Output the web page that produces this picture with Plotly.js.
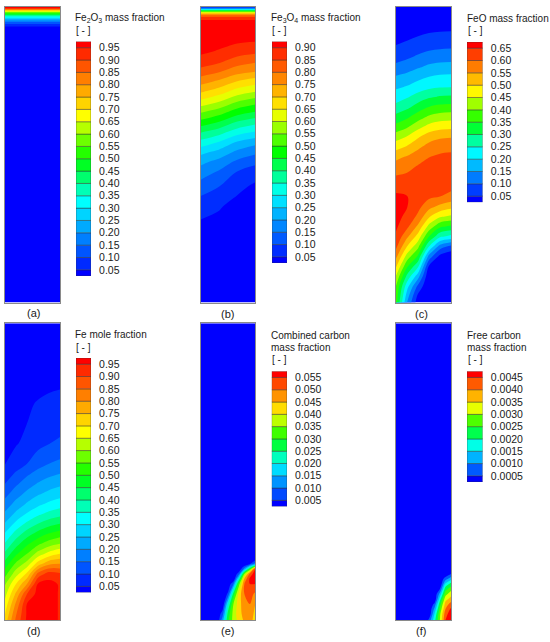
<!DOCTYPE html>
<html><head><meta charset="utf-8">
<script src="https://cdn.plot.ly/plotly-3.0.1.min.js"></script>
<style>html,body{margin:0;padding:0;background:#fff;}#chart{width:550px;height:642px;}</style>
</head><body><div id="chart"></div>
<script>
// ---------------- data ----------------
// radial position (0 = left wall, 1 = right wall) and depth from top (0..296, arbitrary units)
const radA = [0, 1];
const depthA = [0, 1.5, 3, 4.5, 6, 8, 10, 12, 15, 18, 21, 30, 296];
const fe2o3 = [
 [1.00,1.00],[0.94,0.94],[0.80,0.80],[0.67,0.67],[0.55,0.55],[0.45,0.45],
 [0.34,0.34],[0.26,0.26],[0.16,0.16],[0.08,0.08],[0.03,0.03],[0,0],[0,0]];
const levelsA = [0.05,0.10,0.15,0.20,0.25,0.30,0.35,0.40,0.45,0.50,0.55,0.60,0.65,0.70,0.75,0.80,0.85,0.90,0.95];

const radB = [0, 0.33, 0.67, 1];
const depthB = [0,2,4,6,8,11,15,25,35,45,55,65,75,85,95,105,115,125,135,145,155,165,180,200,220,250,296];
const fe3o4 = [
 [0.02,0.02,0.02,0.02],[0.20,0.20,0.20,0.20],[0.45,0.45,0.45,0.45],[0.65,0.65,0.65,0.65],
 [0.78,0.78,0.78,0.78],[0.87,0.87,0.87,0.87],[0.92,0.92,0.92,0.92],
 [0.940,0.936,0.930,0.927],[0.925,0.918,0.906,0.900],[0.909,0.895,0.874,0.862],
 [0.880,0.858,0.824,0.806],[0.828,0.805,0.770,0.750],[0.769,0.740,0.696,0.672],
 [0.706,0.674,0.627,0.600],[0.636,0.602,0.550,0.521],[0.558,0.526,0.477,0.450],
 [0.486,0.452,0.400,0.371],[0.408,0.376,0.327,0.300],[0.336,0.302,0.250,0.221],
 [0.269,0.238,0.191,0.165],[0.215,0.185,0.140,0.115],[0.177,0.146,0.099,0.073],
 [0.127,0.101,0.063,0.041],[0.070,0.055,0.033,0.020],[0.039,0.033,0.023,0.018],
 [0.018,0.017,0.016,0.015],[0.010,0.010,0.010,0.010]];
const levelsB = [0.05,0.10,0.15,0.20,0.25,0.30,0.35,0.40,0.45,0.50,0.55,0.60,0.65,0.70,0.75,0.80,0.85,0.90];

const radC = [0, 0.2, 0.4, 0.6, 0.8, 1];
const depthC = [0,10,20,30,40,50,60,70,80,90,100,110,120,130,140,150,160,170,180,190,200,210,220,230,240,250,260,270,280,290,296];
const feo = [
 [0,0,0,0,0,0],
 [0.010,0.012,0.016,0.018,0.020,0.020],
 [0.020,0.024,0.030,0.036,0.038,0.039],
 [0.036,0.042,0.051,0.058,0.062,0.063],
 [0.053,0.062,0.075,0.086,0.091,0.093],
 [0.080,0.091,0.107,0.121,0.127,0.129],
 [0.112,0.125,0.143,0.159,0.167,0.169],
 [0.154,0.166,0.185,0.200,0.208,0.210],
 [0.191,0.203,0.222,0.237,0.245,0.247],
 [0.226,0.244,0.270,0.292,0.303,0.306],
 [0.264,0.286,0.320,0.349,0.362,0.366],
 [0.314,0.339,0.376,0.407,0.422,0.426],
 [0.366,0.392,0.432,0.466,0.481,0.486],
 [0.426,0.452,0.492,0.526,0.541,0.546],
 [0.480,0.503,0.538,0.567,0.581,0.585],
 [0.536,0.553,0.577,0.598,0.608,0.611],
 [0.573,0.585,0.604,0.619,0.627,0.629],
 [0.603,0.609,0.619,0.627,0.631,0.632],
 [0.633,0.629,0.623,0.617,0.620,0.614],
 [0.659,0.652,0.625,0.610,0.600,0.584],
 [0.679,0.652,0.615,0.569,0.536,0.517],
 [0.670,0.635,0.590,0.506,0.458,0.440],
 [0.658,0.612,0.539,0.433,0.360,0.340],
 [0.642,0.561,0.481,0.350,0.260,0.235],
 [0.612,0.500,0.414,0.250,0.125,0.085],
 [0.563,0.429,0.342,0.130,0.033,0.010],
 [0.506,0.357,0.258,0.042,0,0],
 [0.445,0.286,0.170,0.005,0,0],
 [0.398,0.219,0.086,0,0,0],
 [0.381,0.173,0.036,0,0,0],
 [0.370,0.150,0.020,0,0,0]];
const levelsC = [0.05,0.10,0.15,0.20,0.25,0.30,0.35,0.40,0.45,0.50,0.55,0.60,0.65];

const radD = [0, 0.2, 0.4, 0.6, 0.8, 1];
const depthD = [0,20,40,60,80,100,120,140,150,160,170,180,190,200,210,220,230,240,250,260,270,280,290,296];
const fe = [
 [0,0,0,0,0,0],
 [0.005,0.0065,0.008,0.009,0.0095,0.010],
 [0.010,0.013,0.016,0.018,0.019,0.020],
 [0.015,0.024,0.031,0.037,0.041,0.044],
 [0.020,0.033,0.044,0.053,0.060,0.064],
 [0.029,0.040,0.050,0.065,0.077,0.084],
 [0.039,0.047,0.060,0.085,0.099,0.108],
 [0.048,0.070,0.100,0.130,0.150,0.162],
 [0.069,0.108,0.141,0.167,0.187,0.200],
 [0.100,0.141,0.176,0.204,0.224,0.238],
 [0.133,0.177,0.213,0.243,0.264,0.279],
 [0.169,0.216,0.255,0.286,0.309,0.325],
 [0.209,0.261,0.304,0.338,0.364,0.381],
 [0.255,0.314,0.362,0.401,0.431,0.450],
 [0.305,0.371,0.426,0.470,0.503,0.525],
 [0.356,0.429,0.490,0.539,0.576,0.600],
 [0.411,0.490,0.550,0.620,0.670,0.700],
 [0.469,0.560,0.620,0.725,0.787,0.800],
 [0.531,0.630,0.710,0.867,0.925,0.911],
 [0.594,0.700,0.800,0.955,0.966,0.945],
 [0.632,0.760,0.900,0.970,0.970,0.945],
 [0.667,0.810,0.952,0.970,0.970,0.945],
 [0.700,0.845,0.957,0.970,0.970,0.945],
 [0.720,0.860,0.960,0.970,0.970,0.945]];
const levelsD = levelsA.slice();

const radE = [0, 0.3, 0.4, 0.5, 0.6, 0.7, 0.8, 0.9, 1];
const depthE = [0,225,235,240,245,250,255,260,270,280,290,296];
const combinedC = [
 [0,0,0,0,0,0,0,0,0],
 [0,0,0,0,0,0,0,0,0],
 [0,0,0,0,0,0,0,0,0.002],
 [0,0,0,0,0,0,0,0.004,0.012],
 [0,0,0,0,0,0,0.012,0.030,0.055],
 [0,0,0,0,0,0.008,0.035,0.052,0.058],
 [0,0,0,0,0,0.022,0.046,0.056,0.058],
 [0,0,0,0,0.010,0.033,0.050,0.055,0.055],
 [0,0,0,0.006,0.027,0.042,0.050,0.052,0.049],
 [0,0,0,0.020,0.035,0.043,0.048,0.050,0.045],
 [0,0,0.008,0.027,0.037,0.043,0.047,0.049,0.043],
 [0,0,0.013,0.029,0.037,0.042,0.046,0.048,0.042]];
const levelsE = [0.005,0.010,0.015,0.020,0.025,0.030,0.035,0.040,0.045,0.050,0.055];

const radF = [0, 0.5, 0.6, 0.7, 0.8, 0.9, 1];
const depthF = [0,240,250,255,260,265,270,275,280,285,290,296];
const freeC = [
 [0,0,0,0,0,0,0],
 [0,0,0,0,0,0,0],
 [0,0,0,0,0,0,0.0005],
 [0,0,0,0,0,0.0008,0.0013],
 [0,0,0,0,0,0.0016,0.0022],
 [0,0,0,0,0.0005,0.0023,0.0028],
 [0,0,0,0,0.0012,0.0028,0.0033],
 [0,0,0,0,0.0018,0.0033,0.0037],
 [0,0,0,0.0006,0.0023,0.0037,0.0042],
 [0,0,0,0.0011,0.0026,0.0040,0.0046],
 [0,0,0,0.0015,0.0029,0.0043,0.0048],
 [0,0,0.0006,0.0018,0.0030,0.0045,0.0050]];
const levelsF = [0.0005,0.0010,0.0015,0.0020,0.0025,0.0030,0.0035,0.0040,0.0045];

const titles = [
 ['Fe<sub>2</sub>O<sub>3</sub> mass fraction'],
 ['Fe<sub>3</sub>O<sub>4</sub> mass fraction'],
 ['FeO mass fraction'],
 ['Fe mole fraction'],
 ['Combined carbon','mass fraction'],
 ['Free carbon','mass fraction']];
const unitText = '[ - ]';
const panelLabels = ['(a)','(b)','(c)','(d)','(e)','(f)'];

// ---------------- styling / layout ----------------
const W = 550, H = 642;
const FONT = 'Liberation Sans, Arial, Helvetica, sans-serif';
function rainbow(t){
  const a = [[0,[0,0,255]],[0.316,[0,255,255]],[0.5,[0,255,0]],[0.684,[255,255,0]],[1,[255,0,0]]];
  for (let i=0;i<a.length-1;i++){
    if (t<=a[i+1][0]+1e-9){
      const f=(t-a[i][0])/(a[i+1][0]-a[i][0]);
      const c=a[i][1].map((v,k)=>Math.round(v+(a[i+1][1][k]-v)*f));
      return 'rgb('+c.join(',')+')';
    }
  }
  return 'rgb(255,0,0)';
}
const cfg = [
 {x:radA,y:depthA,z:fe2o3,lv:levelsA,dec:2,box:[5,6.7,60,302.5],bar:[76,41.5,91,276],tx:73,ty:[18],uy:31,lx:33,ly:313},
 {x:radB,y:depthB,z:fe3o4,lv:levelsB,dec:2,box:[200.7,6.7,255.3,302.5],bar:[272,41.5,287,263],tx:269,ty:[18],uy:31,lx:227,ly:314},
 {x:radC,y:depthC,z:feo,lv:levelsC,dec:2,box:[396,6.7,451,302.5],bar:[467,42,482.7,202.3],tx:465,ty:[18],uy:31,lx:422,ly:314},
 {x:radD,y:depthD,z:fe,lv:levelsD,dec:2,box:[5,323.3,60,620],bar:[76,358,91,592.5],tx:73,ty:[334.3],uy:348,lx:33,ly:631},
 {x:radE,y:depthE,z:combinedC,lv:levelsE,dec:3,box:[200.7,323.3,255.3,620],bar:[271.7,371.3,287,506.5],tx:268.5,ty:[335.7,347.3],uy:360,lx:227,ly:631},
 {x:radF,y:depthF,z:freeC,lv:levelsF,dec:4,box:[395.7,323.3,451,620],bar:[467,371.3,482.7,482],tx:465,ty:[335.7,347.3],uy:360,lx:421,ly:631}
];

const traces = [], annotations = [];
const layout = {width:W,height:H,margin:{l:0,r:0,t:0,b:0},paper_bgcolor:'#fff',plot_bgcolor:'rgba(0,0,0,0)',
  showlegend:false,barmode:'overlay',font:{family:FONT,color:'#1a1a1a'}};

cfg.forEach((p,i)=>{
  const n = p.lv.length + 1;
  const cols = []; for (let j=0;j<n;j++) cols.push(rainbow(j/(n-1)));
  const cscale = cols.map((c,j)=>[j/(n-1),c]);
  const cs = p.lv[1]-p.lv[0];
  const ax = i+1, bx = i+7;
  const xa = ax===1?'x':'x'+ax, ya = ax===1?'y':'y'+ax;
  traces.push({type:'contour',x:p.x,y:p.y,z:p.z,xaxis:xa,yaxis:ya,autocontour:false,
    contours:{start:p.lv[0],end:p.lv[p.lv.length-1],size:cs,coloring:'fill',showlines:false},
    line:{width:0},colorscale:cscale,showscale:false,hoverinfo:'skip'});
  const lineSty = {showline:true,mirror:true,linecolor:'#8a8a8a',linewidth:1,showgrid:false,zeroline:false,
    showticklabels:false,ticks:''};
  layout['xaxis'+(ax===1?'':ax)] = Object.assign({domain:[p.box[0]/W,p.box[2]/W],range:[0,1],anchor:ya},lineSty);
  layout['yaxis'+(ax===1?'':ax)] = Object.assign({domain:[1-p.box[3]/H,1-p.box[1]/H],range:[296,0],anchor:xa},lineSty);
  // colour legend
  const lo = p.lv[0]-cs/2, hi = p.lv[p.lv.length-1]+cs/2;
  const edges = [lo].concat(p.lv).concat([hi]);
  const base = [], hgt = [];
  for (let j=0;j<n;j++){ base.push(edges[j]); hgt.push(edges[j+1]-edges[j]); }
  traces.push({type:'bar',x:base.map(()=>0),y:hgt,base:base,width:1,xaxis:'x'+bx,yaxis:'y'+bx,
    marker:{color:cols,line:{width:0.6,color:'rgba(50,50,50,0.75)'}},hoverinfo:'skip'});
  layout['xaxis'+bx] = {domain:[p.bar[0]/W,p.bar[2]/W],range:[-0.5,0.5],visible:false,anchor:'y'+bx,fixedrange:true};
  layout['yaxis'+bx] = {domain:[1-p.bar[3]/H,1-p.bar[1]/H],range:[lo,hi],anchor:'x'+bx,side:'right',
    tickvals:p.lv,ticktext:p.lv.map(v=>v.toFixed(p.dec)),showgrid:false,zeroline:false,showline:false,
    ticks:'outside',ticklen:5,tickcolor:'rgba(0,0,0,0)',tickfont:{size:10.5,family:FONT,color:'#1a1a1a'}};
  // titles
  titles[i].forEach((t,k)=>annotations.push({text:t,x:p.tx/W,y:1-p.ty[k]/H,xref:'paper',yref:'paper',
    xanchor:'left',yanchor:'middle',showarrow:false,font:{size:10,family:FONT,color:'#1a1a1a'}}));
  annotations.push({text:unitText,x:(p.tx+1)/W,y:1-p.uy/H,xref:'paper',yref:'paper',xanchor:'left',yanchor:'middle',
    showarrow:false,font:{size:10,family:FONT,color:'#1a1a1a'}});
  annotations.push({text:panelLabels[i],x:p.lx/W,y:1-p.ly/H,xref:'paper',yref:'paper',xanchor:'center',yanchor:'middle',
    showarrow:false,font:{size:11,family:FONT,color:'#1a1a1a'}});
});
layout.annotations = annotations;
Plotly.newPlot('chart',traces,layout,{staticPlot:true,displayModeBar:false});
</script></body></html>
